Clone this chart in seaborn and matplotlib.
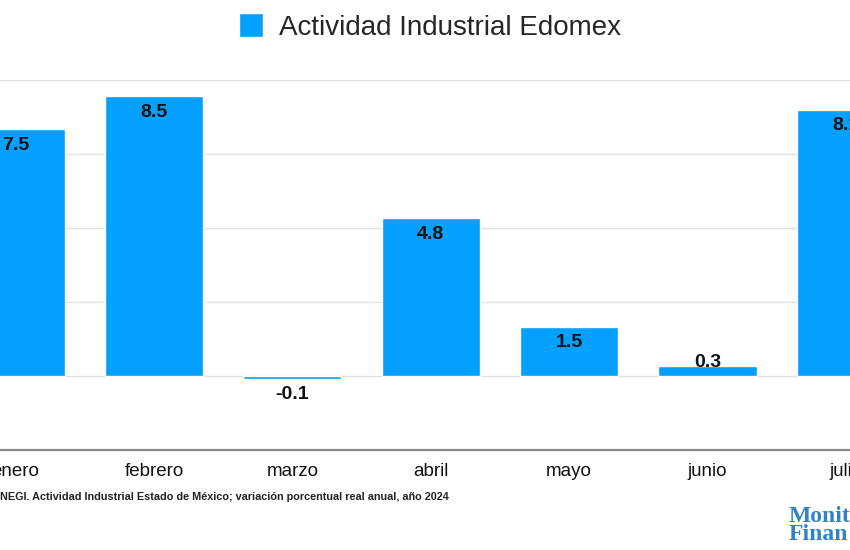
"""
Barras de la actividad industrial del Estado de México (variación anual, 2024).
"""

import matplotlib
from matplotlib import pyplot as plt
import seaborn as sns
import pandas as pd

matplotlib.use('Agg')

# Datos
meses = ['enero', 'febrero', 'marzo', 'abril', 'mayo', 'junio', 'julio']
variacion = [7.5, 8.5, -0.1, 4.8, 1.5, 0.3, 8.1]
serie = 'Actividad Industrial Edomex'
fuente = ('NEGI. Actividad Industrial Estado de México; '
          'variación porcentual real anual, año 2024')

sns.set_style('white')
plt.rcParams['font.family'] = ['Liberation Sans', 'DejaVu Sans']

azul = '#03a0fe'
df = pd.DataFrame({'mes': meses, 'valor': variacion})

fig = plt.figure(figsize=(8.5, 5.5), dpi=100)
# El recorte original deja los extremos cortados: los ejes ocupan todo el ancho
ax = fig.add_axes([0, 1 - 450 / 550, 1, (450 - 80) / 550])

sns.barplot(data=df, x='mes', y='valor', color=azul, width=0.71,
            saturation=1, label=serie, ax=ax)

ax.set_xlim(-0.1129, 6.030)
ax.set_ylim(-2.25, 9)
ax.set_yticks([-2.25, 0, 2.25, 4.5, 6.75, 9])
ax.set_yticklabels([])
ax.grid(axis='y', color='#e2e2e2', linewidth=1)
ax.set_axisbelow(True)
ax.tick_params(axis='both', length=0)
ax.tick_params(axis='x', labelsize=13.5, pad=9, labelcolor='#111111')
ax.set_xlabel('')
ax.set_ylabel('')
for lado in ['top', 'left', 'right']:
    ax.spines[lado].set_visible(False)
ax.spines['bottom'].set_color('#8a8a8a')
ax.spines['bottom'].set_linewidth(1.6)

# Etiquetas de valor
for i, v in enumerate(variacion):
    if v >= 1:
        off, va = -5.5, 'top'
    elif v >= 0:
        off, va = 2.5, 'center'
    else:
        off, va = -5.0, 'top'
    ax.annotate(f'{v:.1f}', xy=(i, v), xytext=(0, off), textcoords='offset points',
                ha='center', va=va, fontsize=14, fontweight='bold', color='#111111')

# Leyenda arriba al centro
if ax.legend_:
    ax.legend_.remove()
handles, labels = ax.get_legend_handles_labels()
fig.legend(handles[:1], labels[:1], loc='center', bbox_to_anchor=(0.506, 1 - 27 / 550),
           frameon=False, fontsize=20, handlelength=0.85, handleheight=0.95,
           handletextpad=0.6)

# Fuente
fig.text(0.0, 1 - 497 / 550, fuente, ha='left', va='center', fontsize=7.85,
         fontweight='bold', color='#222222')

# Logo (texto)
logo = dict(ha='left', va='center', fontsize=17, fontweight='bold', color='#3282c4',
            family=['Liberation Serif', 'DejaVu Serif'])
fig.text(789 / 850, 1 - 516 / 550, 'Monit', **logo)
fig.text(789 / 850, 1 - 535 / 550, 'Finan', **logo)

plt.savefig('out.png', dpi=100)
plt.close(fig)
